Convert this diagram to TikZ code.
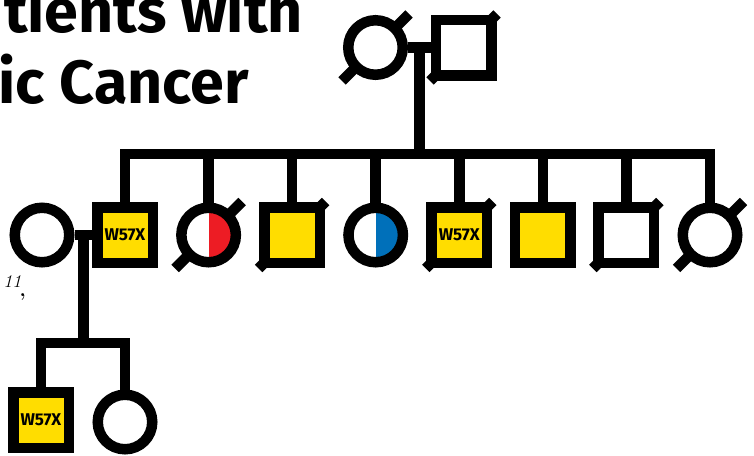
\documentclass[tikz,border=0pt]{standalone}
\usepackage{fontspec}
\newfontfamily\titlefont{Fira Sans}
\usetikzlibrary{calc,backgrounds}
\definecolor{pyellow}{RGB}{255,221,0}
\definecolor{pred}{RGB}{237,28,36}
\definecolor{pblue}{RGB}{0,112,186}
\begin{document}
\begin{tikzpicture}[x=1pt,y=-1pt,line width=10.5pt,
  male/.style={draw,rectangle,minimum size=55.5pt,inner sep=0pt,fill=white},
  female/.style={draw,circle,minimum size=54.5pt,inner sep=0pt,fill=white},
  affected/.style={fill=pyellow},
  halfred/.style={path picture={\fill[pred] (path picture bounding box.south) rectangle (path picture bounding box.north east);}},
  halfblue/.style={path picture={\fill[pblue] (path picture bounding box.south) rectangle (path picture bounding box.north east);}},
  varlabel/.style={font=\titlefont\bfseries\fontsize{17}{17}\selectfont},
  titletext/.style={font=\titlefont\bfseries\fontsize{61}{61}\selectfont,anchor=base east,inner sep=0pt},
  slash/.style={line width=10.5pt}
]
\useasboundingbox (0,0) rectangle (754,455);
\clip (0,0) rectangle (754,455);

% title fragments
\node[titletext] (t1) at (308,32) {tients with};
\node[titletext] (t2) at (254,103) {ic Cancer};
\node[font=\itshape\fontsize{18}{18}\selectfont,anchor=base west,inner sep=0pt] (ref1) at (-2,287)
  {11\kern-1.5pt\raisebox{-9pt}{\upshape\bfseries\fontsize{20}{20}\selectfont ,}};

% generation I
\node[female] (gm) at (375.5,47.5) {};
\node[male] (gf) at (463.5,47.5) {};

% generation II
\node[female] (sp) at (42,235) {};
\node[male,affected,varlabel] (c0) at (125,235) {W57X};
\node[female,halfred] (c1) at (208.6,235) {};
\node[male,affected] (c2) at (292.1,235) {};
\node[female,halfblue] (c3) at (375.7,235) {};
\node[male,affected,varlabel] (c4) at (459.3,235) {W57X};
\node[male,affected] (c5) at (542.9,235) {};
\node[male] (c6) at (626.4,235) {};
\node[female] (c7) at (710,235) {};

% generation III
\node[male,affected,varlabel] (g3a) at (41,420) {W57X};
\node[female] (g3b) at (125,422) {};

% deceased slashes (behind the symbols)
\begin{scope}[on background layer]
  \foreach \n in {gm,gf,c1,c2,c4,c6,c7}
    \draw[slash] ($(\n)+(-33.5,33.5)$) -- ($(\n)+(33.5,-33.5)$);
\end{scope}

% connectors generation I -> II
\draw (gm) -- (gf);
\coordinate (m1) at ($(gm.east)!0.5!(gf.west)$);
\coordinate (sibA) at (419.5,154);
\draw (m1) -- (m1 |- sibA);
\foreach \c in {c0,c1,c2,c3,c4,c5,c6,c7}
  \draw (\c.north) |- (m1 |- sibA);

% connectors generation II -> III
\draw (sp) -- (c0);
\coordinate (m2) at ($(sp.east)!0.5!(c0.west)$);
\coordinate (sibB) at (84,343);
\draw (m2) -- (m2 |- sibB);
\draw (g3a.north) |- (m2 |- sibB);
\draw (g3b.north) |- (m2 |- sibB);
\end{tikzpicture}
\end{document}
